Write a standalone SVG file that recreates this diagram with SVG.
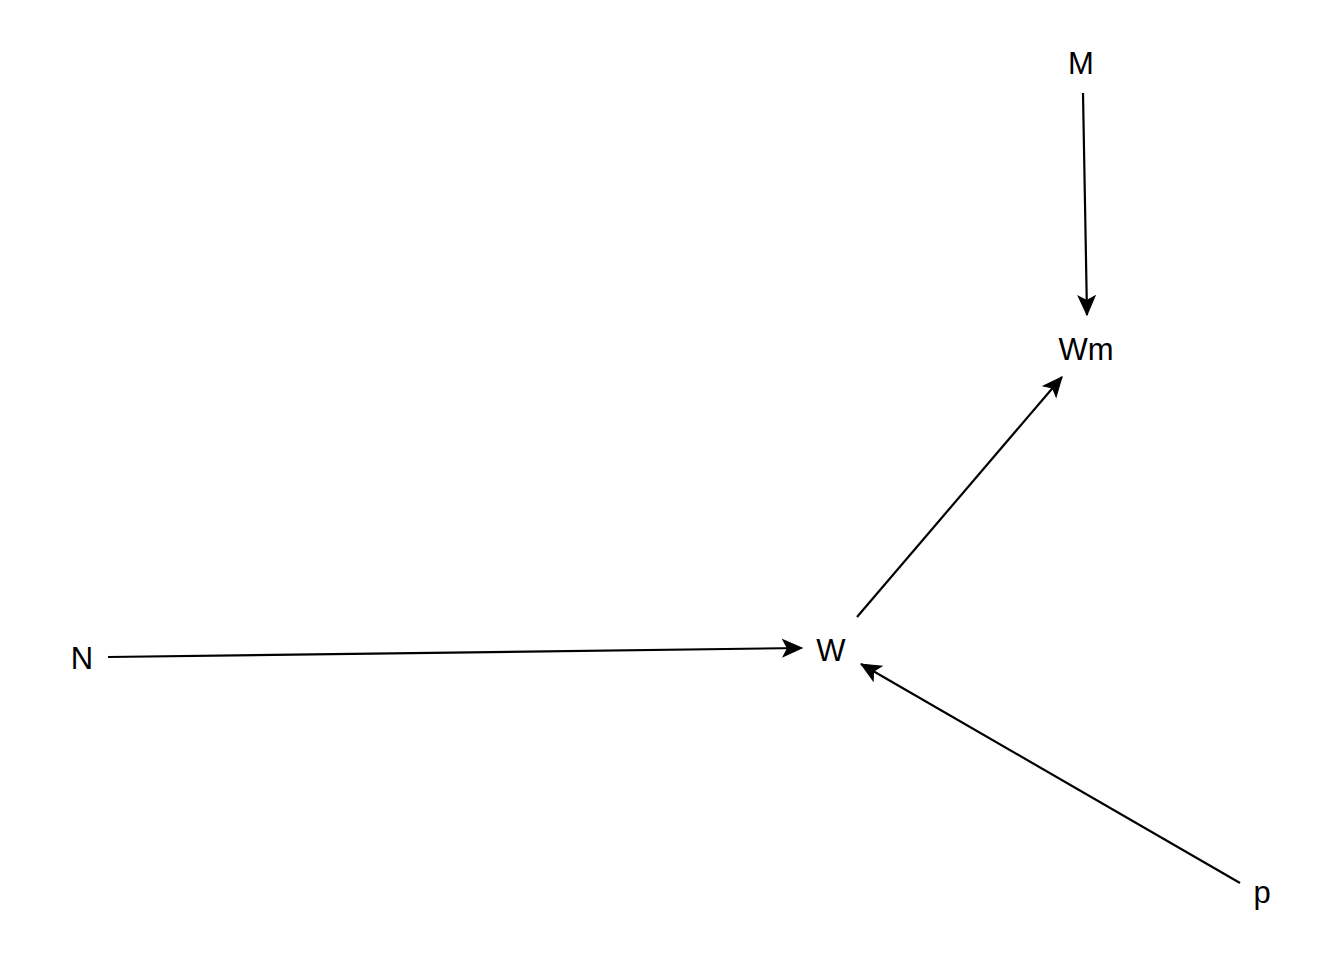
<svg xmlns="http://www.w3.org/2000/svg" width="1344" height="960" viewBox="0 0 1344 960">
<style>
.lbl{font-family:"Liberation Sans",Arial,sans-serif;font-size:31px;fill:#000;text-anchor:middle}
.edge{stroke:#000;stroke-width:2.2;fill:none;marker-end:url(#ah)}
</style>
<defs>
<marker id="ah" markerUnits="userSpaceOnUse" markerWidth="22" markerHeight="20" viewBox="0 0 22 20" refX="20" refY="10" orient="auto">
<path d="M20,10 L1,1.5 L5.5,10 L1,18.5 Z" fill="#000" stroke="#000" stroke-width="1" stroke-linejoin="miter"/>
</marker>
</defs>
<rect width="1344" height="960" fill="#fff"/>
<g id="connectors">
<line class="edge" x1="1083" y1="93" x2="1087" y2="315"/>
<line class="edge" x1="857" y1="617" x2="1062" y2="377"/>
<line class="edge" x1="108" y1="657" x2="802" y2="648"/>
<line class="edge" x1="1240" y1="883" x2="861" y2="664"/>
</g>
<g id="M"><text class="lbl" x="1081" y="74">M</text></g>
<g id="Wm"><text class="lbl" x="1086" y="360">Wm</text></g>
<g id="W"><text class="lbl" x="831" y="661">W</text></g>
<g id="N"><text class="lbl" x="82" y="669">N</text></g>
<g id="p"><text class="lbl" x="1262" y="903">p</text></g>
</svg>
